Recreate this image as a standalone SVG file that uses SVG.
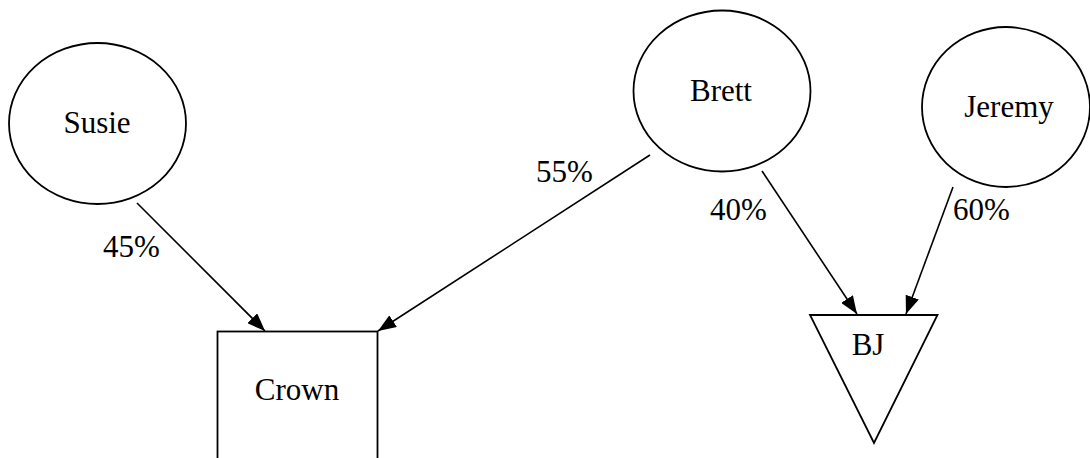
<svg xmlns="http://www.w3.org/2000/svg" width="1090" height="458" viewBox="0 0 1090 458">
<defs>
<style>
.shape{fill:#fff;stroke:#000;stroke-width:1.8}
.edge{fill:none;stroke:#000;stroke-width:1.6}
text{font-family:"Liberation Serif","Times New Roman",serif;font-size:31px;fill:#000}
.c{text-anchor:middle}
</style>
<marker id="arr" markerUnits="userSpaceOnUse" markerWidth="18" markerHeight="14" viewBox="0 0 18 14" refX="18" refY="7" orient="auto">
<path d="M0,0 L18,7 L0,14 Z" fill="#000"/>
</marker>
</defs>
<rect width="1090" height="458" fill="#fff"/>
<g id="connectors">
<line class="edge" x1="137" y1="203" x2="265" y2="331" marker-end="url(#arr)"/>
<line class="edge" x1="650" y1="155" x2="378" y2="331" marker-end="url(#arr)"/>
<line class="edge" x1="762" y1="171" x2="857" y2="314" marker-end="url(#arr)"/>
<line class="edge" x1="953" y1="187" x2="906" y2="314" marker-end="url(#arr)"/>
<text x="103" y="257">45%</text>
<text x="536" y="182">55%</text>
<text x="710" y="220">40%</text>
<text x="953" y="220">60%</text>
</g>
<g id="susie">
<ellipse class="shape" cx="97.5" cy="123.5" rx="88.5" ry="80.5"/>
<text class="c" x="97" y="133">Susie</text>
</g>
<g id="brett">
<ellipse class="shape" cx="722" cy="91" rx="88.5" ry="80.5"/>
<text class="c" x="721" y="101">Brett</text>
</g>
<g id="jeremy">
<ellipse class="shape" cx="1006" cy="107" rx="84" ry="80"/>
<text class="c" x="1009" y="117">Jeremy</text>
</g>
<g id="crown">
<rect class="shape" x="217.5" y="331.5" width="160" height="140"/>
<text class="c" x="297" y="400">Crown</text>
</g>
<g id="bj">
<polygon class="shape" points="810,315 937.5,315 874,443"/>
<text class="c" x="868" y="355">BJ</text>
</g>
</svg>
